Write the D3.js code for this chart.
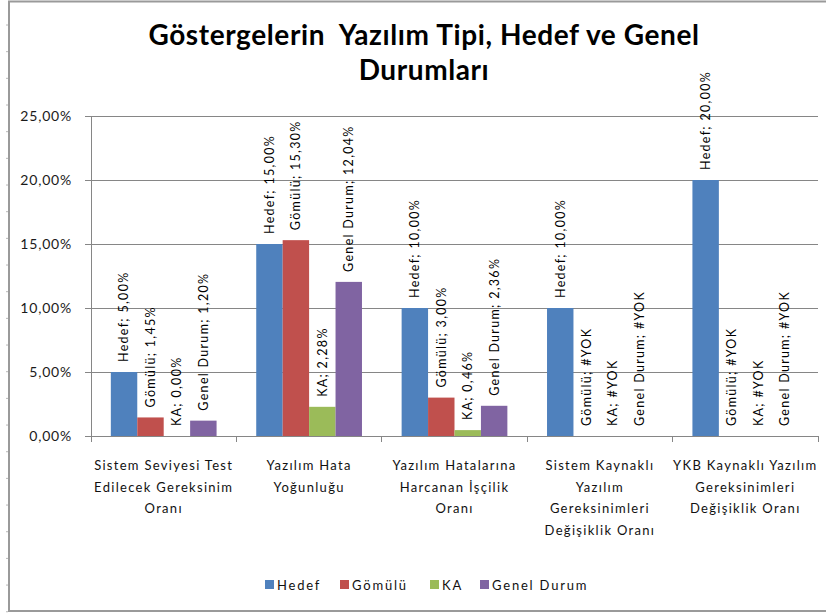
<!DOCTYPE html>
<html><head><meta charset="utf-8">
<script src="https://cdn.jsdelivr.net/npm/d3@7"></script>
<style>
html,body{margin:0;padding:0;background:#fff;}
text{font-family:Lato, "Open Sans", sans-serif;}
</style></head>
<body>
<svg id="chart" width="826" height="613"></svg>
<script>
// ---- data ----
const categories = [
  ["Sistem Seviyesi Test","Edilecek Gereksinim","Oranı"],
  ["Yazılım Hata","Yoğunluğu"],
  ["Yazılım Hatalarına","Harcanan İşçilik","Oranı"],
  ["Sistem Kaynaklı","Yazılım","Gereksinimleri","Değişiklik Oranı"],
  ["YKB Kaynaklı Yazılım","Gereksinimleri","Değişiklik Oranı"]
];
const seriesNames = ["Hedef","Gömülü","KA","Genel Durum"];
const hedef      = [5.00, 15.00, 10.00, 10.00, 20.00];
const gomulu     = [1.45, 15.30, 3.00, null, null];
const ka         = [0.00, 2.28, 0.46, null, null];
const genelDurum = [1.20, 12.04, 2.36, null, null];
const yTicks = [0, 5, 10, 15, 20, 25];
const colors = ["#4F81BD","#C0504D","#9BBB59","#8064A2"];
const titleLines = ["Göstergelerin  Yazılım Tipi, Hedef ve Genel","Durumları"];

const seriesValues = [hedef, gomulu, ka, genelDurum];
const fmt = v => v.toFixed(2).replace(".", ",") + "%";

const svg = d3.select("#chart");
const pLeft = 91, pRight = 818, pTop = 116, pBottom = 436;

// chart border
svg.append("rect").attr("x",9).attr("y",1.5).attr("width",840).attr("height",609.5)
  .attr("fill","none").attr("stroke","#9a9a9a").attr("stroke-width",2);
// faint ruler marks on left edge
svg.append("g").selectAll("line").data(d3.range(25, 612, 26.67)).join("line")
  .attr("x1",6).attr("x2",8).attr("y1",d=>d).attr("y2",d=>d)
  .attr("stroke","#b8b8b8").attr("stroke-width",1);

// title
svg.append("g").selectAll("text").data(titleLines).join("text")
  .attr("x",424).attr("y",(d,i)=>45 + i*35)
  .attr("text-anchor","middle").attr("font-size",28).attr("font-weight","bold")
  .attr("letter-spacing","0.6px")
  .style("white-space","pre").attr("fill","#000").text(d=>d);

const x = d3.scaleBand().domain(d3.range(categories.length)).range([pLeft,pRight])
  .paddingInner(1.5/5.5).paddingOuter(0.75/5.5);
const xs = d3.scaleBand().domain(d3.range(seriesNames.length)).range([0,x.bandwidth()]);
const y = d3.scaleLinear().domain([0,25]).range([pBottom,pTop]);

// gridlines
svg.append("g").selectAll("line").data(yTicks.filter(t=>t>0)).join("line")
  .attr("x1",pLeft).attr("x2",pRight).attr("y1",d=>y(d)).attr("y2",d=>y(d))
  .attr("stroke","#868686").attr("stroke-width",1).attr("shape-rendering","crispEdges");

// y axis
const yAxis = d3.axisLeft(y).tickValues(yTicks).tickSize(6).tickFormat(d=>fmt(d));
const gy = svg.append("g").attr("transform",`translate(${pLeft},0)`).call(yAxis);
gy.select(".domain").attr("stroke","#868686");
gy.selectAll(".tick line").attr("stroke","#868686");
gy.selectAll(".tick text").attr("x",-19).attr("font-size",14).attr("letter-spacing","0.8px")
  .attr("fill","#1a1a1a").attr("font-family","Lato");

// x axis line and ticks at band boundaries
const step = x.step();
const boundaries = d3.range(categories.length+1).map(i => pLeft + i*step);
svg.append("line").attr("x1",pLeft).attr("x2",pRight).attr("y1",pBottom).attr("y2",pBottom)
  .attr("stroke","#868686").attr("shape-rendering","crispEdges");
svg.append("g").selectAll("line").data(boundaries).join("line")
  .attr("x1",d=>d).attr("x2",d=>d).attr("y1",pBottom).attr("y2",pBottom+6)
  .attr("stroke","#868686").attr("shape-rendering","crispEdges");

// bars
const rows = [];
categories.forEach((c,ci)=>seriesNames.forEach((s,si)=>rows.push({ci,si,v:seriesValues[si][ci]})));
svg.append("g").selectAll("rect").data(rows.filter(d=>d.v!==null && d.v>0)).join("rect")
  .attr("x",d=>x(d.ci)+xs(d.si)).attr("width",xs.bandwidth())
  .attr("y",d=>y(d.v)).attr("height",d=>y(0)-y(d.v))
  .attr("fill",d=>colors[d.si]);

// data labels
svg.append("g").selectAll("text").data(rows).join("text")
  .attr("transform",d=>{
    const cx = x(d.ci)+xs(d.si)+xs.bandwidth()/2;
    const cy = y(d.v===null?0:d.v) - 10;
    return `translate(${cx},${cy}) rotate(-90)`;
  })
  .attr("dy","0.35em").attr("font-size",12.5).attr("letter-spacing","1.3px")
  .attr("fill","#000")
  .text(d=>`${seriesNames[d.si]}; ${d.v===null?"#YOK":fmt(d.v)}`);

// category labels
const cg = svg.append("g").selectAll("text").data(categories).join("text")
  .attr("text-anchor","middle").attr("font-size",13).attr("letter-spacing","1.3px").attr("fill","#111");
cg.each(function(lines,i){
  d3.select(this).selectAll("tspan").data(lines).join("tspan")
    .attr("x",x(i)+x.bandwidth()/2).attr("y",(d,j)=>470 + j*21.5).text(d=>d);
});

// legend
const legX = [265, 340, 430, 480];
const lg = svg.append("g").selectAll("g").data(seriesNames).join("g")
  .attr("transform",(d,i)=>`translate(${legX[i]},580)`);
lg.append("rect").attr("width",9).attr("height",9).attr("fill",(d,i)=>colors[i]);
lg.append("text").attr("x",12).attr("y",9.5).attr("font-size",13).attr("letter-spacing","1.8px")
  .attr("fill","#111").text(d=>d);
</script>
</body></html>
